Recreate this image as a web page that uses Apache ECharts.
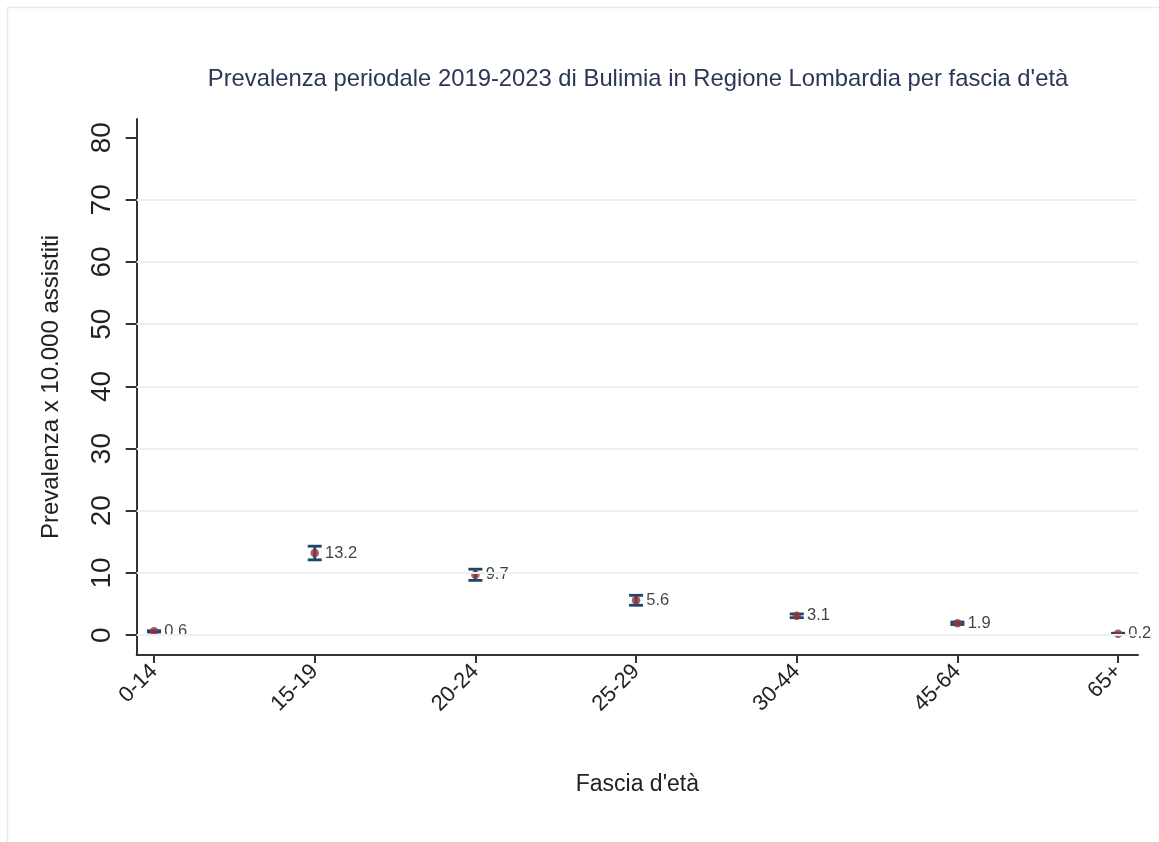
<!DOCTYPE html>
<html>
<head>
<meta charset="utf-8">
<script src="https://cdn.jsdelivr.net/npm/echarts@6/dist/echarts.min.js"></script>
<style>
html,body{margin:0;padding:0;background:#fff;}
#chart{width:1159px;height:842px;}
</style>
</head>
<body>
<div id="chart"></div>
<script>
const categories = ['0-14', '15-19', '20-24', '25-29', '30-44', '45-64', '65+'];
const prevalence = [0.6, 13.2, 9.7, 5.6, 3.1, 1.9, 0.2];
const ciLow = [0.5, 12.1, 8.8, 4.8, 2.8, 1.7, 0.1];
const ciHigh = [0.7, 14.3, 10.6, 6.4, 3.4, 2.1, 0.3];
const yTicks = [0, 10, 20, 30, 40, 50, 60, 70, 80];
const gridValues = [0, 10, 20, 30, 40, 50, 60, 70];

const xIdx = categories.map((c, i) => i);
const FONT = '"Liberation Sans", Arial, sans-serif';

const chart = echarts.init(document.getElementById('chart'));
chart.setOption({
  backgroundColor: '#ffffff',
  animation: false,
  title: {
    text: "Prevalenza periodale 2019-2023 di Bulimia in Regione Lombardia per fascia d'età",
    left: 633, textAlign: 'center', top: 62,
    textStyle: { fontFamily: FONT, fontSize: 23.8, fontWeight: 'normal', color: '#2c3656' }
  },
  graphic: [{
    type: 'rect', shape: { x: 7.5, y: 7.5, width: 1200, height: 900 },
    style: { fill: 'none', stroke: '#e6ecec', lineWidth: 1.5 }, silent: true
  }],
  grid: { left: 136.7, right: 21, top: 119, bottom: 187 },
  xAxis: {
    type: 'value', min: -0.108, max: 6.124,
    name: "Fascia d'età", nameLocation: 'middle', nameGap: 118,
    nameTextStyle: { fontFamily: FONT, fontSize: 23, color: '#222' },
    axisLine: { show: true, onZero: false, lineStyle: { color: '#333', width: 2 } },
    axisTick: { show: true, length: 8, customValues: xIdx, lineStyle: { color: '#333', width: 2 } },
    axisLabel: {
      customValues: xIdx, rotate: 45, margin: 13,
      formatter: v => categories[Math.round(v)],
      fontFamily: FONT, fontSize: 22, color: '#222'
    },
    splitLine: { show: false }
  },
  yAxis: {
    type: 'value', min: -3.2, max: 83.0,
    name: 'Prevalenza x 10.000 assistiti', nameLocation: 'middle', nameGap: 73, nameRotate: 90,
    nameTextStyle: { fontFamily: FONT, fontSize: 24, color: '#222' },
    axisLine: { show: true, onZero: false, lineStyle: { color: '#333', width: 2 } },
    axisTick: { show: true, length: 11, customValues: yTicks, lineStyle: { color: '#333', width: 2 } },
    axisLabel: {
      customValues: yTicks, rotate: 90, margin: 20,
      fontFamily: FONT, fontSize: 28, color: '#222'
    },
    splitLine: { show: false }
  },
  series: [
    {
      type: 'line', data: [], silent: true,
      markLine: {
        silent: true, symbol: 'none', label: { show: false },
        lineStyle: { color: '#e9f1f2', width: 2, type: 'solid' },
        data: gridValues.map(v => ({ yAxis: v }))
      }
    },
    {
      type: 'custom', silent: true, z: 3,
      data: xIdx.map(i => [i, ciLow[i], ciHigh[i]]),
      renderItem: function (params, api) {
        const x = api.value(0);
        const lo = api.coord([x, api.value(1)]);
        const hi = api.coord([x, api.value(2)]);
        const hw = 7;
        const st = { stroke: '#1a476f', lineWidth: 2.8 };
        return {
          type: 'group',
          children: [
            { type: 'line', shape: { x1: lo[0], y1: lo[1], x2: hi[0], y2: hi[1] }, style: st },
            { type: 'line', shape: { x1: lo[0] - hw, y1: lo[1], x2: lo[0] + hw, y2: lo[1] }, style: st },
            { type: 'line', shape: { x1: hi[0] - hw, y1: hi[1], x2: hi[0] + hw, y2: hi[1] }, style: st }
          ]
        };
      }
    },
    {
      type: 'scatter', z: 4,
      data: xIdx.map(i => [i, prevalence[i]]),
      symbol: 'circle', symbolSize: 8.5,
      itemStyle: { color: '#90353b' },
      label: {
        show: true, position: 'right', distance: 6,
        formatter: p => String(p.value[1]),
        fontFamily: FONT, fontSize: 16.5, color: '#111'
      }
    }
  ]
});
</script>
</body>
</html>
